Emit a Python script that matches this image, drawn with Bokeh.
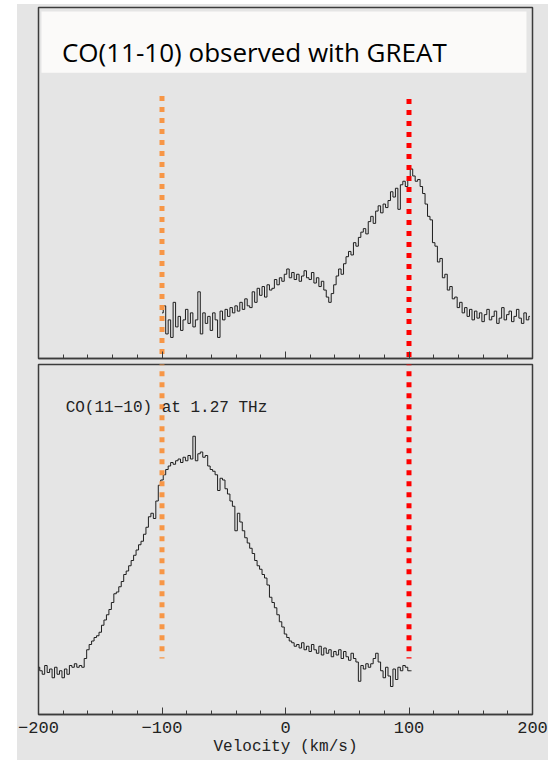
from bokeh.plotting import figure
from bokeh.layouts import column
from bokeh.models import Range1d, SingleIntervalTicker, BoxAnnotation, Label
from bokeh.embed import file_html
from bokeh.resources import INLINE

# ---------------- data ----------------
CHANNEL_WIDTH = 2  # km/s, spectrometer channel grid

# Top panel: CO(11-10) observed with GREAT (channel centres -100 ... 198 km/s)
top_velocity = list(range(-100, 200, CHANNEL_WIDTH))
top_temperature = [
    0.3, 0.5, -0.3, 0.1, -0.4, 0.6, -0.1, 0.2, -0.2, 0.1,
    0.4, 0.0, 0.3, -0.1, 0.1, 0.9, -0.3, 0.3, 0.0, 0.2,
    -0.2, 0.3, 0.1, -0.4, 0.35, 0.1, 0.4, 0.2, 0.45, 0.3,
    0.5, 0.35, 0.6, 0.4, 0.7, 0.5, 0.45, 0.9, 0.6, 1.0,
    0.8, 1.05, 0.75, 1.1, 0.95, 1.0, 1.25, 1.1, 1.3, 1.2,
    1.4, 1.55, 1.3, 1.45, 1.25, 1.4, 1.2, 1.35, 1.5, 1.3,
    1.25, 1.45, 1.15, 1.3, 1.05, 1.2, 0.95, 0.75, 0.6, 0.85,
    1.1, 1.35, 1.55, 1.4, 1.7, 1.9, 2.05, 1.95, 2.3, 2.2,
    2.45, 2.6, 2.7, 2.55, 2.9, 3.05, 2.85, 3.2, 3.35, 3.15,
    3.4, 3.3, 3.5, 3.75, 3.6, 3.85, 3.25, 3.95, 4.05, 3.9,
    4.15, 4.4, 4.2, 4.05, 4.1, 3.9, 3.7, 3.4, 3.05, 2.95,
    2.3, 2.2, 1.75, 1.85, 1.3, 1.4, 0.95, 1.05, 0.7, 0.75,
    0.45, 0.6, 0.3, 0.45, 0.2, 0.4, 0.1, 0.35, 0.15, 0.3,
    0.05, 0.25, 0.4, 0.1, 0.2, 0.35, 0.0, 0.15, 0.45, 0.1,
    0.25, 0.35, 0.05, 0.2, 0.4, 0.15, 0.0, 0.3, 0.1, 0.2,
]

# Bottom panel: CO(11-10) at 1.27 THz (channel centres -200 ... 102 km/s)
bottom_velocity = list(range(-200, 104, CHANNEL_WIDTH))
bottom_temperature = [
    0.1, 0.0, -0.1, 0.15, -0.05, 0.05, -0.2, 0.1, -0.1, 0.0,
    -0.2, 0.05, -0.1, 0.15, 0.1, 0.2, 0.1, 0.15, 0.1, 0.35,
    0.6, 0.75, 0.85, 0.95, 1.0, 1.1, 1.3, 1.45, 1.6, 1.75,
    1.95, 2.2, 2.25, 2.4, 2.55, 2.75, 2.85, 3.0, 3.15, 3.3,
    3.45, 3.6, 3.7, 3.9, 4.1, 4.4, 4.5, 4.35, 4.85, 5.3,
    5.45, 5.6, 5.75, 5.85, 5.95, 5.9, 6.0, 6.05, 5.95, 6.1,
    6.0, 6.15, 6.05, 6.7, 6.0, 6.2, 6.25, 6.1, 6.15, 5.85,
    5.75, 5.7, 5.6, 5.15, 5.5, 5.45, 5.2, 5.05, 4.85, 4.7,
    4.0, 4.5, 4.25, 4.0, 3.8, 3.65, 3.5, 3.35, 3.15, 3.0,
    2.9, 2.75, 2.65, 2.45, 2.1, 1.95, 1.8, 1.6, 1.4, 1.25,
    1.05, 0.95, 0.85, 0.8, 0.7, 0.75, 0.65, 0.8, 0.6, 0.7,
    0.55, 0.75, 0.6, 0.5, 0.7, 0.45, 0.65, 0.5, 0.6, 0.4,
    0.55, 0.45, 0.6, 0.35, 0.55, 0.4, 0.3, 0.5, 0.35, 0.25,
    -0.3, 0.15, 0.05, 0.2, 0.1, 0.2, 0.35, 0.5, 0.25, 0.0,
    -0.2, 0.1, -0.15, -0.45, 0.05, -0.25, 0.1, 0.0, 0.15, 0.1,
    0.0, 0.0,
]

tick_values = [-200, -100, 0, 100, 200]
tick_labels = ["\u2212200", "\u2212100", "0", "100", "200"]

marker_velocities = [-100, 100]
marker_colors = ["#f79646", "#ff0000"]
top_marker_start = [6.48, 6.39]       # top-panel units
bottom_marker_end = [0.35, 0.35]      # bottom-panel units

title_text = "CO(11-10) observed with GREAT"
line_label = "CO(11\u221210) at 1.27 THz"
x_label = "Velocity (km/s)"

# ---------------- styling ----------------
BG = "#e5e5e5"
FRAME = "#3c3c3c"
INK = "#1e1e1e"
MONO = "Liberation Mono"


def make_panel(frame_h, b_top, b_bottom, y_rng):
    p = figure(frame_width=494, frame_height=frame_h,
               x_range=Range1d(-200, 200), y_range=y_rng,
               output_backend="svg", toolbar_location=None,
               y_axis_location=None,
               min_border_left=21, min_border_right=16,
               min_border_top=b_top, min_border_bottom=b_bottom,
               background_fill_color=BG, border_fill_color=BG,
               outline_line_color=FRAME, outline_line_width=1.5)
    p.grid.visible = False
    ax = p.xaxis[0]
    ax.ticker = SingleIntervalTicker(interval=100, num_minor_ticks=5)
    ax.axis_line_color = FRAME
    ax.axis_line_width = 1.5
    ax.major_tick_line_color = FRAME
    ax.minor_tick_line_color = FRAME
    ax.major_tick_in = 7
    ax.major_tick_out = 0
    ax.minor_tick_in = 4
    ax.minor_tick_out = 0
    return p


# top panel
p_top = make_panel(351, 3, 3, Range1d(-1.0, 9.0))
ax_t = p_top.xaxis[0]
ax_t.major_label_overrides = {v: "" for v in tick_values}
ax_t.major_label_standoff = 0

p_top.step(top_velocity, top_temperature, mode="center",
           line_color=INK, line_width=1)
p_top.segment(x0=marker_velocities, y0=top_marker_start,
              x1=marker_velocities, y1=[-2, -2],
              line_color=marker_colors, line_width=5, line_dash="5 6")

p_top.add_layout(BoxAnnotation(left=-197.6, right=195.1, bottom=7.14, top=8.885,
                               fill_color="#fbfaf9", fill_alpha=1.0,
                               line_color=None))
p_top.add_layout(Label(x=-181, y=7.74, text=title_text,
                       text_font="Open Sans", text_font_size="26px",
                       text_color="#000000", text_baseline="alphabetic"))

# bottom panel
p_bot = make_panel(350, 3, 46, Range1d(-1.25, 8.75))
ax_b = p_bot.xaxis[0]
ax_b.major_label_overrides = dict(zip(tick_values, tick_labels))
ax_b.major_label_text_font = MONO
ax_b.major_label_text_font_size = "17px"
ax_b.major_label_text_color = "#222222"
ax_b.major_label_standoff = 7
ax_b.axis_label = x_label
ax_b.axis_label_text_font = MONO
ax_b.axis_label_text_font_size = "16px"
ax_b.axis_label_text_font_style = "normal"
ax_b.axis_label_text_color = "#222222"
ax_b.axis_label_standoff = 2

p_bot.step(bottom_velocity, bottom_temperature, mode="center",
           line_color=INK, line_width=1)
p_bot.segment(x0=marker_velocities, y0=[9.5, 9.5],
              x1=marker_velocities, y1=bottom_marker_end,
              line_color=marker_colors, line_width=5, line_dash="5 6")
p_bot.add_layout(Label(x=-178, y=7.52, text=line_label,
                       text_font=MONO, text_font_size="16px",
                       text_color="#222222", text_baseline="middle"))

layout = column(p_top, p_bot, spacing=0, margin=(4, 0, 0, 17),
                styles={"background-color": BG})

open("out.html", "w").write(file_html(layout, INLINE, title="CO(11-10)"))
